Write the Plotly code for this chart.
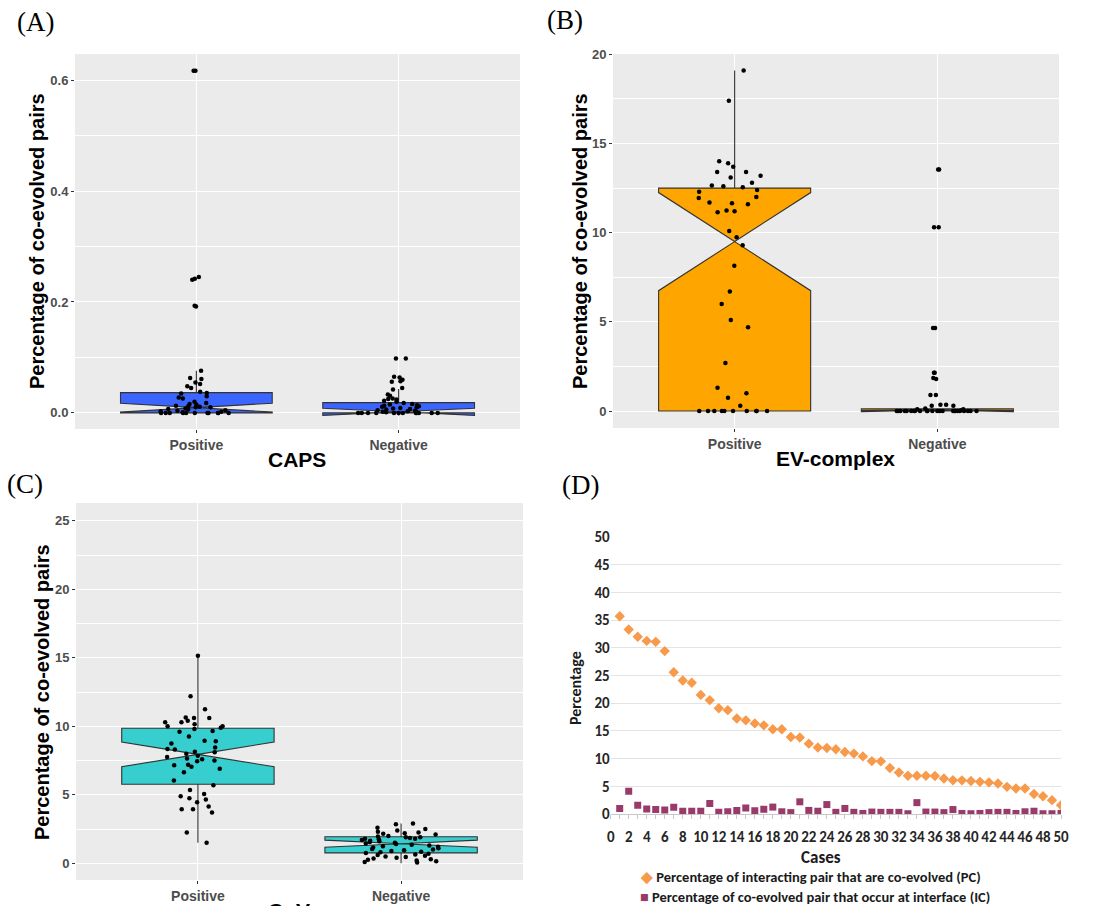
import plotly.graph_objects as go

W, H = 1099, 906
cats = ["Positive", "Negative"]

# ---------------- Panel A: CAPS ----------------
caps_pos = [0.617, 0.617, 0.245, 0.242, 0.240, 0.193, 0.192, 0.076, 0.063, 0.061, 0.055,
            0.052, 0.048, 0.045, 0.038, 0.036, 0.035, 0.030, 0.028, 0.026, 0.020, 0.018,
            0.016, 0.015, 0.013, 0.012, 0.011, 0.010, 0.010, 0.008, 0.007, 0.006, 0.005,
            0.004, 0.003, 0.002, 0.001, 0.0, 0.0, 0.0, 0.0, 0.0, 0.0, 0.0, 0.0, 0.0, 0.0, 0.0]
caps_neg = [0.098, 0.098, 0.065, 0.064, 0.060, 0.057, 0.056, 0.045, 0.042, 0.033, 0.031,
            0.026, 0.025, 0.024, 0.022, 0.020, 0.018, 0.016, 0.015, 0.014, 0.013, 0.012,
            0.011, 0.010, 0.009, 0.008, 0.007, 0.006, 0.005, 0.004, 0.003, 0.002, 0.002,
            0.001, 0.0, 0.0, 0.0, 0.0, 0.0, 0.0, 0.0, 0.0, 0.0, 0.0, 0.0, 0.0]
caps_q1 = [0.0, 0.0]
caps_med = [0.0095, 0.002]
caps_q3 = [0.0366, 0.0185]
caps_lo = [0.0, 0.0]
caps_hi = [0.076, 0.043]
caps_notch = [0.008, 0.0065]

# ---------------- Panel B: EV-complex ----------------
ev_pos = [19.1, 17.4, 14.0, 13.9, 13.7, 13.4, 13.4, 13.2, 13.1, 12.8, 12.65, 12.6, 12.55,
          12.4, 12.3, 12.0, 11.95, 11.7, 11.65, 11.6, 11.25, 11.2, 11.15, 10.1, 9.75, 9.3,
          8.15, 6.7, 6.0, 5.1, 4.7, 2.7, 1.3, 1.0, 0.75, 0.3, 0.0, 0.0, 0.0, 0.0, 0.0, 0.0,
          0.0, 0.0, 0.0, 0.0]
ev_neg = [13.55, 13.55, 10.3, 10.3, 4.65, 4.65, 2.15, 2.15, 1.85, 1.8, 0.9, 0.9, 0.35, 0.35,
          0.3, 0.3, 0.15, 0.1, 0.1, 0.05, 0.0, 0.0, 0.0, 0.0, 0.0, 0.0, 0.0, 0.0, 0.0, 0.0,
          0.0, 0.0, 0.0, 0.0, 0.0, 0.0, 0.0, 0.0, 0.0, 0.0, 0.0, 0.0, 0.0, 0.0]
ev_q1 = [0.0, 0.0]
ev_med = [9.5, 0.0]
ev_q3 = [12.5, 0.12]
ev_lo = [0.0, 0.0]
ev_hi = [19.1, 0.15]
ev_notch = [2.75, 0.03]

# ---------------- Panel C: CoVar ----------------
cov_pos = [15.15, 12.2, 11.25, 10.65, 10.6, 10.6, 10.3, 10.3, 10.4, 10.15, 10.0, 10.0, 9.9,
           9.8, 9.65, 9.6, 9.25, 8.95, 8.9, 8.75, 8.45, 8.35, 8.3, 8.15, 8.1, 8.0, 7.85,
           7.75, 7.65, 7.6, 7.5, 7.45, 7.2, 7.15, 7.05, 6.9, 6.65, 6.05, 5.7, 5.35, 5.05,
           4.9, 4.75, 4.65, 4.45, 4.15, 3.95, 3.95, 3.7, 2.25, 1.5]
cov_neg = [2.9, 2.85, 2.6, 2.5, 2.4, 2.3, 2.25, 2.2, 2.15, 2.1, 2.0, 1.95, 1.9, 1.9, 1.85,
           1.8, 1.8, 1.75, 1.7, 1.65, 1.6, 1.55, 1.5, 1.45, 1.4, 1.35, 1.3, 1.25, 1.2, 1.15,
           1.1, 1.05, 1.0, 0.95, 0.9, 0.85, 0.8, 0.75, 0.7, 0.65, 0.6, 0.55, 0.5, 0.45, 0.4,
           0.35, 0.3, 0.25, 0.2, 0.15, 0.1, 0.05]
cov_q1 = [5.77, 0.76]
cov_med = [7.95, 1.43]
cov_q3 = [9.86, 1.94]
cov_lo = [1.5, 0.0]
cov_hi = [15.15, 2.9]
cov_notch = [0.9, 0.26]

# ---------------- Panel D ----------------
cases = list(range(1, 51))
pc_vals = [35.7, 33.3, 32.0, 31.25, 31.07, 29.4, 25.6, 24.1, 23.7, 21.5, 20.55, 19.1, 18.75,
           17.25, 16.9, 16.35, 16.0, 15.3, 15.3, 13.9, 13.8, 12.7, 12.0, 11.9, 11.7, 11.2,
           10.9, 10.4, 9.55, 9.5, 8.3, 7.5, 6.9, 6.9, 6.9, 6.85, 6.4, 6.1, 6.07, 5.95, 5.8,
           5.7, 5.5, 4.9, 4.6, 4.6, 3.6, 3.2, 2.5, 1.6]
ic_vals = [1.0, 4.1, 1.6, 0.9, 0.8, 0.7, 1.2, 0.5, 0.5, 0.5, 1.9, 0.3, 0.4, 0.65, 1.1, 0.6,
           0.85, 1.25, 0.4, 0.25, 2.2, 0.65, 0.5, 1.7, 0.3, 1.0, 0.3, 0.1, 0.35, 0.3, 0.3,
           0.3, 0.05, 2.05, 0.35, 0.35, 0.25, 0.8, 0.1, 0.05, 0.1, 0.25, 0.3, 0.3, 0.1, 0.4,
           0.5, 0.05, 0.05, 0.1]
pc_name = "Percentage of interacting pair that are co-evolved (PC)"
ic_name = "Percentage of co-evolved pair that occur at interface (IC)"
PC_COLOR = "#F79A4B"
IC_COLOR = "#983A6A"

GG = "Liberation Sans"
CAL = "Carlito, Lato, sans-serif"


def px_x(p):
    return p / W


def px_y(p):
    return 1 - p / H


fig = go.Figure()


def add_box_panel(xa, ya, pos, neg, q1, med, q3, lo, hi, notch, fill):
    fig.add_trace(go.Box(
        x=cats, q1=q1, median=med, q3=q3, lowerfence=lo, upperfence=hi, notchspan=notch,
        notched=True, notchwidth=0.5, whiskerwidth=0, boxpoints=False,
        fillcolor=fill, line=dict(color="#333333", width=1.1),
        xaxis=xa, yaxis=ya, showlegend=False, hoverinfo="skip"))
    fig.add_trace(go.Box(
        x=[cats[0]] * len(pos) + [cats[1]] * len(neg), y=pos + neg,
        boxpoints="all", jitter=0.55, pointpos=0, whiskerwidth=0,
        fillcolor="rgba(0,0,0,0)", line=dict(color="rgba(0,0,0,0)", width=0),
        marker=dict(color="black", size=4.5),
        xaxis=xa, yaxis=ya, showlegend=False, hoverinfo="skip"))


add_box_panel("x", "y", caps_pos, caps_neg, caps_q1, caps_med, caps_q3, caps_lo, caps_hi,
              caps_notch, "#3A66FF")
add_box_panel("x2", "y2", ev_pos, ev_neg, ev_q1, ev_med, ev_q3, ev_lo, ev_hi,
              ev_notch, "#FFA500")
add_box_panel("x3", "y3", cov_pos, cov_neg, cov_q1, cov_med, cov_q3, cov_lo, cov_hi,
              cov_notch, "#36CECE")

fig.add_trace(go.Scatter(
    x=cases, y=pc_vals, mode="markers", xaxis="x4", yaxis="y4",
    marker=dict(symbol="diamond", size=8, color=PC_COLOR), name=pc_name, showlegend=False))
fig.add_trace(go.Scatter(
    x=cases, y=ic_vals, mode="markers", xaxis="x4", yaxis="y4",
    marker=dict(symbol="square", size=7, color=IC_COLOR), name=ic_name, showlegend=False))

tickfont_gg = dict(family=GG, size=13, color="#4D4D4D", weight="bold")
xtickfont_gg = dict(family=GG, size=14, color="#4D4D4D", weight="bold")


def cat_axis(dom, anchor):
    return dict(domain=dom, anchor=anchor, type="category", categoryorder="array",
                categoryarray=cats, range=[-0.6, 1.6], showgrid=True, gridcolor="white",
                gridwidth=1.2, zeroline=False, showline=False, ticks="outside", ticklen=3,
                tickcolor="#333333", tickfont=xtickfont_gg, fixedrange=True,
                automargin=False)


def val_axis(dom, anchor, rng, dtick, fmt=""):
    return dict(domain=dom, anchor=anchor, range=rng, dtick=dtick, tick0=0, showgrid=True,
                gridcolor="white", gridwidth=1.2, zeroline=False, showline=False,
                ticks="outside", ticklen=3, tickcolor="#333333", tickfont=tickfont_gg,
                tickformat=fmt,
                minor=dict(dtick=dtick / 2, showgrid=True, gridcolor="white", gridwidth=0.6),
                fixedrange=True, automargin=False)


dA_x = [px_x(75), px_x(520)]
dA_y = [px_y(429), px_y(54)]
dB_x = [px_x(613), px_x(1059)]
dB_y = [px_y(428), px_y(54)]
dC_x = [px_x(76), px_x(523)]
dC_y = [px_y(880), px_y(503)]
dD_x = [px_x(610.7), px_x(1061)]
dD_y = [px_y(814), px_y(537)]

dtick_font = dict(family=CAL, size=15, color="#262626", weight="bold")

fig.update_layout(
    width=W, height=H, margin=dict(l=0, r=0, t=0, b=0, autoexpand=False),
    paper_bgcolor="white", plot_bgcolor="white", showlegend=False,
    boxmode="overlay", boxgap=0.25, boxgroupgap=0,
    xaxis=cat_axis(dA_x, "y"),
    yaxis=val_axis(dA_y, "x", [-0.029, 0.647], 0.2, ".1f"),
    xaxis2=cat_axis(dB_x, "y2"),
    yaxis2=val_axis(dB_y, "x2", [-0.95, 20.02], 5),
    xaxis3=cat_axis(dC_x, "y3"),
    yaxis3=val_axis(dC_y, "x3", [-1.22, 26.3], 5),
    xaxis4=dict(domain=dD_x, anchor="y4", range=[0, 50], dtick=2, tick0=0, showgrid=False,
                zeroline=False, showline=True, linecolor="#C8C8C8", linewidth=1,
                ticks="outside", ticklen=4, tickcolor="#C8C8C8", ticklabelstandoff=5,
                minor=dict(dtick=1, ticks="outside", ticklen=4, tickcolor="#C8C8C8"),
                tickfont=dtick_font, fixedrange=True, automargin=False),
    yaxis4=dict(domain=dD_y, anchor="x4", range=[0, 50], dtick=5, tick0=0, showgrid=True,
                gridcolor="#E3E3E3", gridwidth=1, zeroline=False, showline=False,
                tickfont=dict(family=CAL, size=15, color="#262626", weight="bold"),
                fixedrange=True, automargin=False),
)

# grey ggplot panel backgrounds
for xr, yr in (("x", "y"), ("x2", "y2"), ("x3", "y3")):
    fig.add_shape(type="rect", xref=f"{xr} domain", yref=f"{yr} domain", x0=0, x1=1, y0=0,
                  y1=1, fillcolor="#EBEBEB", line_width=0, layer="below")

serif = dict(family="Liberation Serif", size=27, color="black")
ytitle = dict(family=GG, size=20, color="black", weight="bold")
xtitle = dict(family=GG, size=21, color="black", weight="bold")
dfont = dict(family=CAL, size=14.5, color="#1A1A1A", weight="bold")

annots = [
    ("(A)", 35, 22, serif, 0, "center"),
    ("(B)", 565, 20, serif, 0, "center"),
    ("(C)", 25, 484, serif, 0, "center"),
    ("(D)", 580, 485, serif, 0, "center"),
    ("Percentage of co-evolved pairs", 37, 241, ytitle, -90, "center"),
    ("Percentage of co-evolved pairs", 580, 241, ytitle, -90, "center"),
    ("Percentage of co-evolved pairs", 42, 692, ytitle, -90, "center"),
    ("CAPS", 297, 459, xtitle, 0, "center"),
    ("EV-complex", 835, 458, xtitle, 0, "center"),
    ("CoVar", 298, 911, xtitle, 0, "center"),
    ("Percentage", 575, 688, dict(family=CAL, size=16, color="#1A1A1A", weight="bold"), -90,
     "center"),
    ("Cases", 821, 857, dict(family=CAL, size=17, color="#1A1A1A", weight="bold"), 0,
     "center"),
    (f"<span style='color:{PC_COLOR}'>◆</span> {pc_name}", 638, 877, dfont, 0, "left"),
    (f"<span style='color:{IC_COLOR}'>■</span> {ic_name}", 638, 897, dfont, 0, "left"),
]
for text, x, y, font, ang, anc in annots:
    fig.add_annotation(text=text, x=px_x(x), y=px_y(y), xref="paper", yref="paper",
                       xanchor=anc, yanchor="middle", showarrow=False, font=font,
                       textangle=ang)

fig.write_html("out.html", config={"displayModeBar": False},
               post_script="document.body.style.margin='0px';"
                           "document.body.style.overflow='hidden';")
